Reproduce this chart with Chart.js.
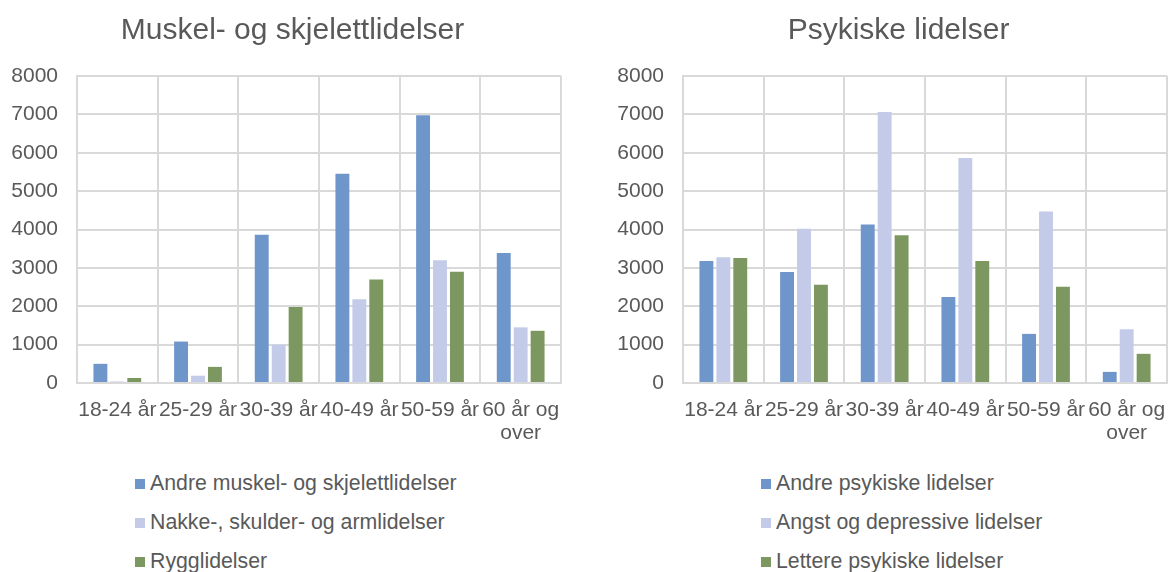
<!DOCTYPE html>
<html lang="no">
<head>
<meta charset="UTF-8">
<title>Lidelser etter alder</title>
<script src="https://cdn.jsdelivr.net/npm/chart.js"></script>
</head>
<body>
    <div class="boks" id="boksVenstre">
        <canvas id="grafMuskel" width="585" height="450"></canvas>
    </div>
    <div class="boks" id="boksHoyre">
        <canvas id="grafPsykisk" width="585" height="450"></canvas>
    </div>
    <div class="forklaring" id="forklaringVenstre"></div>
    <div class="forklaring" id="forklaringHoyre"></div>
</body>
</html>

<script>
    // aldersgrupper
    var aldersgrupper = ['18-24 år', '25-29 år', '30-39 år', '40-49 år', '50-59 år', ['60 år og', 'over']];
    var yMaks = 8000;
    var ySteg = 1000;

    // Muskel- og skjelettlidelser
    var muskelNavn = ['Andre muskel- og skjelettlidelser', 'Nakke-, skulder- og armlidelser', 'Rygglidelser'];
    var andreMuskel = [500, 1080, 3860, 5450, 6980, 3390];
    var nakkeSkulder = [40, 190, 1000, 2180, 3200, 1450];
    var rygg = [130, 420, 1980, 2700, 2900, 1360];

    // Psykiske lidelser
    var psykiskNavn = ['Andre psykiske lidelser', 'Angst og depressive lidelser', 'Lettere psykiske lidelser'];
    var andrePsykisk = [3180, 2890, 4130, 2240, 1280, 290];
    var angstDepresjon = [3280, 4020, 7060, 5860, 4470, 1400];
    var letterePsykisk = [3260, 2560, 3850, 3180, 2510, 760];

    var farger = ['#6f96cb', '#c3cbe8', '#7d9760'];
    var tekstFarge = '#595959';
    var font = "'Liberation Sans', Arial, sans-serif";

    function lagGraf(id, tittel, navn, serier){
        var datasets = [];
        for(var i = 0; i < serier.length; i++){
            datasets.push({
                label: navn[i],
                data: serier[i],
                backgroundColor: farger[i],
                borderWidth: 0,
                categoryPercentage: 0.63,
                barPercentage: 0.82
            });
        }
        return new Chart(document.getElementById(id), {
            type: 'bar',
            data: { labels: aldersgrupper, datasets: datasets },
            options: {
                responsive: false,
                animation: false,
                layout: { padding: 0 },
                plugins: {
                    legend: { display: false },
                    tooltip: { enabled: false },
                    title: {
                        display: true,
                        text: tittel,
                        color: tekstFarge,
                        font: { family: font, size: 30, weight: 'normal', lineHeight: 1.2 },
                        padding: { top: 13, bottom: 27 }
                    }
                },
                scales: {
                    x: {
                        grid: { color: '#d9d9d9', lineWidth: 2, drawTicks: false, offset: true },
                        border: { color: '#d9d9d9', width: 2 },
                        ticks: {
                            color: tekstFarge,
                            font: { family: font, size: 21, lineHeight: 1.1 },
                            autoSkip: false,
                            maxRotation: 0,
                            minRotation: 0,
                            padding: 16
                        },
                        afterFit: function(scale){ scale.height = 67; }
                    },
                    y: {
                        min: 0,
                        max: yMaks,
                        grid: { color: '#d9d9d9', lineWidth: 2, drawTicks: false },
                        border: { color: '#d9d9d9', width: 2 },
                        ticks: {
                            stepSize: ySteg,
                            color: tekstFarge,
                            font: { family: font, size: 21 },
                            padding: 19,
                            callback: function(v){ return String(v); }
                        },
                        afterFit: function(scale){ scale.width = 77; }
                    },
                    // tom akse til høyre, gir luft bak plottet
                    yTom: {
                        position: 'right',
                        display: true,
                        grid: { display: false, drawTicks: false },
                        border: { display: false },
                        ticks: { display: false },
                        afterFit: function(scale){ scale.width = 24; }
                    }
                }
            }
        });
    }

    function lagForklaring(id, navn){
        var html = '';
        for(var i = 0; i < navn.length; i++){
            html += '<div class="rad"><span class="rute" style="background:' + farger[i] + '"></span>' + navn[i] + '</div>';
        }
        document.getElementById(id).innerHTML = html;
    }

    lagGraf('grafMuskel', 'Muskel- og skjelettlidelser', muskelNavn, [andreMuskel, nakkeSkulder, rygg]);
    lagGraf('grafPsykisk', 'Psykiske lidelser', psykiskNavn, [andrePsykisk, angstDepresjon, letterePsykisk]);
    lagForklaring('forklaringVenstre', muskelNavn);
    lagForklaring('forklaringHoyre', psykiskNavn);
</script>
<style>
    html, body{
        margin: 0;
        padding: 0;
        width: 1170px;
        height: 572px;
        overflow: hidden;
        background: #ffffff;
        position: relative;
        font-family: 'Liberation Sans', Arial, sans-serif;
    }
    .boks{
        position: absolute;
        top: 0;
        width: 585px;
        height: 450px;
    }
    .boks canvas{
        display: block;
    }
    #boksVenstre{ left: 0; }
    #boksHoyre{ left: 606px; }
    .forklaring{
        position: absolute;
        top: 471px;
        color: #595959;
        font-size: 21.3px;
    }
    #forklaringVenstre{ left: 135px; }
    #forklaringHoyre{ left: 761px; }
    .rad{
        height: 39px;
        line-height: 24px;
        white-space: nowrap;
    }
    .rute{
        display: inline-block;
        width: 10px;
        height: 10px;
        margin-right: 5px;
        vertical-align: 1px;
    }
</style>
